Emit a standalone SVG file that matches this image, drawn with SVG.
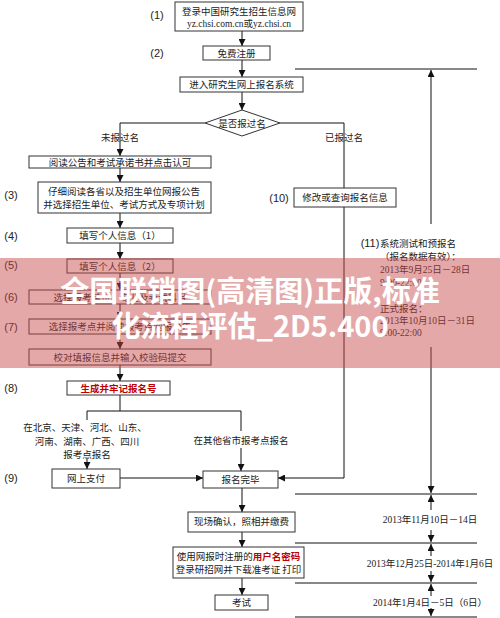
<svg xmlns="http://www.w3.org/2000/svg" width="500" height="618" viewBox="0 0 500 618">
<defs>
<marker id="ah" markerWidth="7" markerHeight="7" refX="7" refY="3.5" orient="auto" markerUnits="userSpaceOnUse"><path d="M0,0 L7,3.5 L0,7 z" fill="#111"/></marker>
<style>
.b{fill:#fff;stroke:#333;stroke-width:1}
.t{font-family:"Noto Sans CJK SC",sans-serif;font-size:9.5px;fill:#222;text-anchor:middle}
.s{font-family:"Liberation Serif","Noto Sans CJK SC",serif;font-size:9.5px;fill:#222}
.n{font-family:"Liberation Sans Narrow","Liberation Sans",sans-serif;font-size:11px;fill:#222;text-anchor:middle}
.c line,.c polyline{stroke:#111;stroke-width:1;fill:none}
.a{marker-end:url(#ah)}
.w{font-family:"Noto Sans CJK SC",sans-serif;font-weight:bold;font-size:29px;fill:#fff;text-anchor:middle}
</style>
</defs>
<rect width="500" height="618" fill="#fff"/>
<g class="c" id="connectors">
<line class="a" x1="242" y1="31" x2="242" y2="46"/>
<line class="a" x1="242" y1="60" x2="242" y2="77"/>
<line class="a" x1="242" y1="92" x2="242" y2="110"/>
<polyline class="a" points="205,123 120,123 120,156"/>
<line class="a" x1="120" y1="168" x2="120" y2="182"/>
<line class="a" x1="120" y1="213" x2="120" y2="228"/>
<line class="a" x1="120" y1="243" x2="120" y2="259"/>
<line class="a" x1="120" y1="273" x2="120" y2="290"/>
<line class="a" x1="120" y1="304" x2="120" y2="319"/>
<line class="a" x1="120" y1="334" x2="120" y2="349"/>
<line class="a" x1="120" y1="365" x2="120" y2="381"/>
<line x1="120" y1="395" x2="120" y2="411"/>
<polyline points="87,420 87,411 241,411 241,431"/>
<line class="a" x1="87" y1="458" x2="87" y2="469"/>
<line class="a" x1="241" y1="448" x2="241" y2="471"/>
<line class="a" x1="120" y1="478" x2="203" y2="478"/>
<polyline points="280,123 344,123 344,188"/>
<polyline class="a" points="344,207 344,478 278,478"/>
<line class="a" x1="242" y1="488" x2="242" y2="512"/>
<line class="a" x1="242" y1="532" x2="242" y2="547"/>
<line class="a" x1="242" y1="578" x2="242" y2="595"/>
<line x1="295" y1="69" x2="477" y2="69"/>
<line class="a" x1="431" y1="224" x2="431" y2="70"/>
<line class="a" x1="431" y1="347" x2="431" y2="493"/>
<line x1="295" y1="494" x2="477" y2="494"/>
<line x1="295" y1="543" x2="477" y2="543"/>
<line x1="295" y1="583" x2="477" y2="583"/>
<line x1="295" y1="617" x2="477" y2="617"/>
<line class="a" x1="431" y1="510" x2="431" y2="495"/>
<line class="a" x1="431" y1="530" x2="431" y2="542"/>
<line class="a" x1="431" y1="556" x2="431" y2="544"/>
<line class="a" x1="431" y1="571" x2="431" y2="582"/>
<line class="a" x1="431" y1="596" x2="431" y2="584"/>
<line class="a" x1="431" y1="608" x2="431" y2="616"/>
</g>
<g id="labels">
<text class="n" x="157" y="19">(1)</text>
<text class="n" x="157" y="57">(2)</text>
<text class="n" x="11" y="199">(3)</text>
<text class="n" x="11" y="240">(4)</text>
<text class="n" x="11" y="269">(5)</text>
<text class="n" x="11" y="301">(6)</text>
<text class="n" x="11" y="331">(7)</text>
<text class="n" x="11" y="392">(8)</text>
<text class="n" x="11" y="482">(9)</text>
<text class="n" x="279" y="202">(10)</text>
<text class="t" x="120" y="141">未报过名</text>
<text class="t" x="344" y="141">已报过名</text>
<text class="t" x="85" y="431">在北京、天津、河北、山东、</text>
<text class="t" x="87" y="445">河南、湖南、广西、四川</text>
<text class="t" x="87" y="458">报考点报名</text>
<text class="t" x="241" y="444">在其他省市报考点报名</text>
</g>
<g id="n1"><rect class="b" x="175" y="2" width="128" height="29"/><text class="t" x="239" y="15">登录中国研究生招生信息网</text><text class="s" x="239" y="27" text-anchor="middle">yz.chsi.com.cn或yz.chsi.cn</text></g>
<g id="n2"><rect class="b" x="203" y="46" width="67" height="14"/><text class="t" x="236.5" y="57">免费注册</text></g>
<g id="n3"><rect class="b" x="180" y="77" width="123" height="15"/><text class="t" x="241.5" y="88">进入研究生网上报名系统</text></g>
<g id="d1"><polygon class="b" points="242,110 280,123 242,136 205,123"/><text class="t" x="242" y="127">是否报过名</text></g>
<g id="n4"><rect class="b" x="29" y="156" width="182" height="12"/><text class="t" x="120" y="165.5">阅读公告和考试承诺书并点击认可</text></g>
<g id="n5"><rect class="b" x="38" y="182" width="173" height="31"/><text class="t" x="124" y="195">仔细阅读各省以及招生单位网报公告</text><text class="t" x="124" y="208">并选择招生单位、考试方式及专项计划</text></g>
<g id="n6"><rect class="b" x="67" y="228" width="106" height="15"/><text class="t" x="120" y="239">填写个人信息（1）</text></g>
<g id="n7"><rect class="b" x="67" y="259" width="106" height="14"/><text class="t" x="120" y="270">填写个人信息（2）</text></g>
<g id="n8"><rect class="b" x="29" y="290" width="182" height="14"/><text class="t" x="120" y="301">选择报考单位、专业及考试科目</text></g>
<g id="n9"><rect class="b" x="29" y="319" width="182" height="15"/><text class="t" x="120" y="330">选择报考点并阅读报考点网报公告</text></g>
<g id="n10"><rect class="b" x="29" y="349" width="182" height="16"/><text class="t" x="120" y="361">校对填报信息并输入校验码提交</text></g>
<g id="n11"><rect class="b" x="67" y="381" width="103" height="14"/><text class="t" x="118.5" y="392" style="fill:#c00000;font-weight:bold">生成并牢记报名号</text></g>
<g id="n12"><rect class="b" x="52" y="469" width="68" height="19"/><text class="t" x="86" y="482">网上支付</text></g>
<g id="n13"><rect class="b" x="203" y="471" width="75" height="17"/><text class="t" x="240.5" y="483">报名完毕</text></g>
<g id="n14"><rect class="b" x="294" y="188" width="102" height="19"/><text class="t" x="345" y="201">修改或查询报名信息</text></g>
<g id="n15"><rect class="b" x="188" y="512" width="107" height="20"/><text class="t" x="241.5" y="525">现场确认，照相并缴费</text></g>
<g id="n16"><rect class="b" x="173" y="547" width="131" height="31"/><text class="t" x="238.5" y="560">使用网报时注册的<tspan style="fill:#c00000;font-weight:bold">用户名密码</tspan></text><text class="t" x="238.5" y="573">登录研招网并下载准考证 打印</text></g>
<g id="n17"><rect class="b" x="215" y="595" width="53" height="15"/><text class="t" x="241.5" y="606">考试</text></g>
<g id="n18">
<text class="n" x="370" y="247">(11)</text>
<text class="s" x="380" y="247">系统测试和预报名</text>
<text class="s" x="380" y="260">（报名数据有效）：</text>
<text class="s" x="380" y="273">2013年9月25日－28日</text>
<text class="s" x="380" y="286">9:00-22:00</text>
<text class="s" x="380" y="312">正式报名：</text>
<text class="s" x="380" y="324">2013年10月10日－31日</text>
<text class="s" x="380" y="336">9:00-22:00</text>
</g>
<g id="dates">
<text class="s" x="430" y="523" text-anchor="middle">2013年11月10日－14日</text>
<text class="s" x="430" y="567" text-anchor="middle">2013年12月25日-2014年1月6日</text>
<text class="s" x="430" y="606" text-anchor="middle">2014年1月4日－5日（6日）</text>
</g>
<g id="watermark">
<rect x="0" y="258" width="500" height="110" fill="#c94a4a" opacity="0.48"/>
<text class="w" x="250" y="302">全国联销图(高清图)正版,标准</text>
<text class="w" x="250" y="337">化流程评估_2D5.400</text>
</g>
</svg>
